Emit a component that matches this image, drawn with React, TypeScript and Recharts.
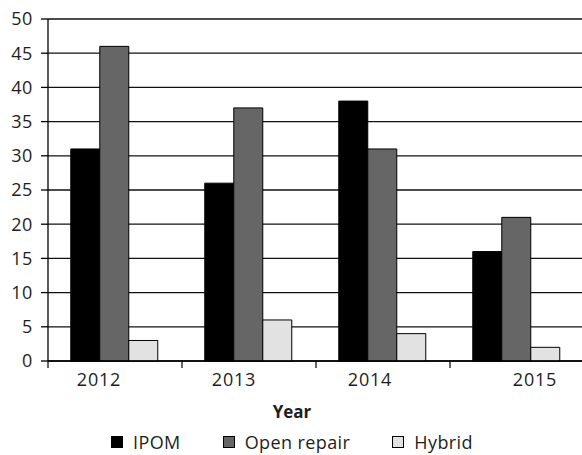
import { BarChart, Bar, XAxis, YAxis, CartesianGrid, Legend } from 'recharts'

// ── Data ─────────────────────────────────────────────────────────────────────
const years = ['2012', '2013', '2014', '2015']
const ipom = [31, 26, 38, 16]
const openRepair = [46, 37, 31, 21]
const hybrid = [3, 6, 4, 2]
const yTicks = [0, 5, 10, 15, 20, 25, 30, 35, 40, 45, 50]

const data = years.map((year, i) => ({
  year,
  ipom: ipom[i],
  openRepair: openRepair[i],
  hybrid: hybrid[i],
}))

// ── Styles ───────────────────────────────────────────────────────────────────
const FONT = '"Open Sans", "Noto Sans", sans-serif'
const TEXT = '#1e1e1e'
const SERIES = [
  { key: 'ipom', name: 'IPOM', fill: '#000000' },
  { key: 'openRepair', name: 'Open repair', fill: '#666666' },
  { key: 'hybrid', name: 'Hybrid', fill: '#e2e2e2' },
]
// the source offsets its year labels a little from the bar groups
const LABEL_SHIFT = [-16, -15, -13, 18]

function YearTick(props: any) {
  const { x, y, payload, index } = props
  const left = x - (payload.offset || 0)
  return (
    <g>
      <line x1={left} y1={y - 7} x2={left} y2={y} stroke="#000" strokeWidth={1.2} />
      <text
        x={x + (LABEL_SHIFT[index] || 0)}
        y={y + 18}
        textAnchor="middle"
        fontSize={18}
        letterSpacing={0.8}
        fontFamily={FONT}
        fill={TEXT}
      >
        {payload.value}
      </text>
    </g>
  )
}

function LegendBox() {
  return (
    <div style={{ fontFamily: FONT, color: TEXT, textAlign: 'center' }}>
      <div style={{ fontSize: 17, fontWeight: 700, lineHeight: '20px', marginTop: 7 }}>Year</div>
      <div
        style={{
          display: 'flex',
          justifyContent: 'center',
          gap: 42,
          marginTop: 9,
          fontSize: 18,
          letterSpacing: 0.4,
          lineHeight: '22px',
        }}
      >
        {SERIES.map((s) => (
          <div key={s.key} style={{ display: 'flex', alignItems: 'center' }}>
            <span
              style={{
                display: 'inline-block',
                width: 10,
                height: 10,
                background: s.fill,
                border: '1px solid #000',
                marginRight: 10,
              }}
            />
            {s.name}
          </div>
        ))}
      </div>
    </div>
  )
}

export default function App() {
  return (
    <div style={{ position: 'absolute', left: 0, top: 0, width: 582, height: 455, overflow: 'hidden', background: '#fff' }}>
      <BarChart
        width={590}
        height={455}
        data={data}
        margin={{ top: 19, right: 6, bottom: 0, left: 0 }}
        barGap={0}
        barCategoryGap="17%"
      >
        <CartesianGrid vertical={false} stroke="#111" strokeWidth={1.3} />
        <XAxis
          dataKey="year"
          height={34}
          tickSize={7}
          tickMargin={0}
          tickLine={false}
          axisLine={{ stroke: '#000', strokeWidth: 1.3 }}
          tick={<YearTick />}
          interval={0}
        />
        <YAxis
          width={48}
          domain={[0, 50]}
          ticks={yTicks}
          tickSize={7}
          tickMargin={8}
          axisLine={{ stroke: '#000', strokeWidth: 1.3 }}
          tickLine={{ stroke: '#000', strokeWidth: 1.3 }}
          tick={{ fontSize: 18, fontFamily: FONT, fill: TEXT, letterSpacing: 0.6 }}
        />
        {SERIES.map((s) => (
          <Bar
            key={s.key}
            dataKey={s.key}
            name={s.name}
            fill={s.fill}
            stroke="#000"
            strokeWidth={1}
            isAnimationActive={false}
          />
        ))}
        <Legend verticalAlign="bottom" height={60} content={<LegendBox />} />
      </BarChart>
    </div>
  )
}
